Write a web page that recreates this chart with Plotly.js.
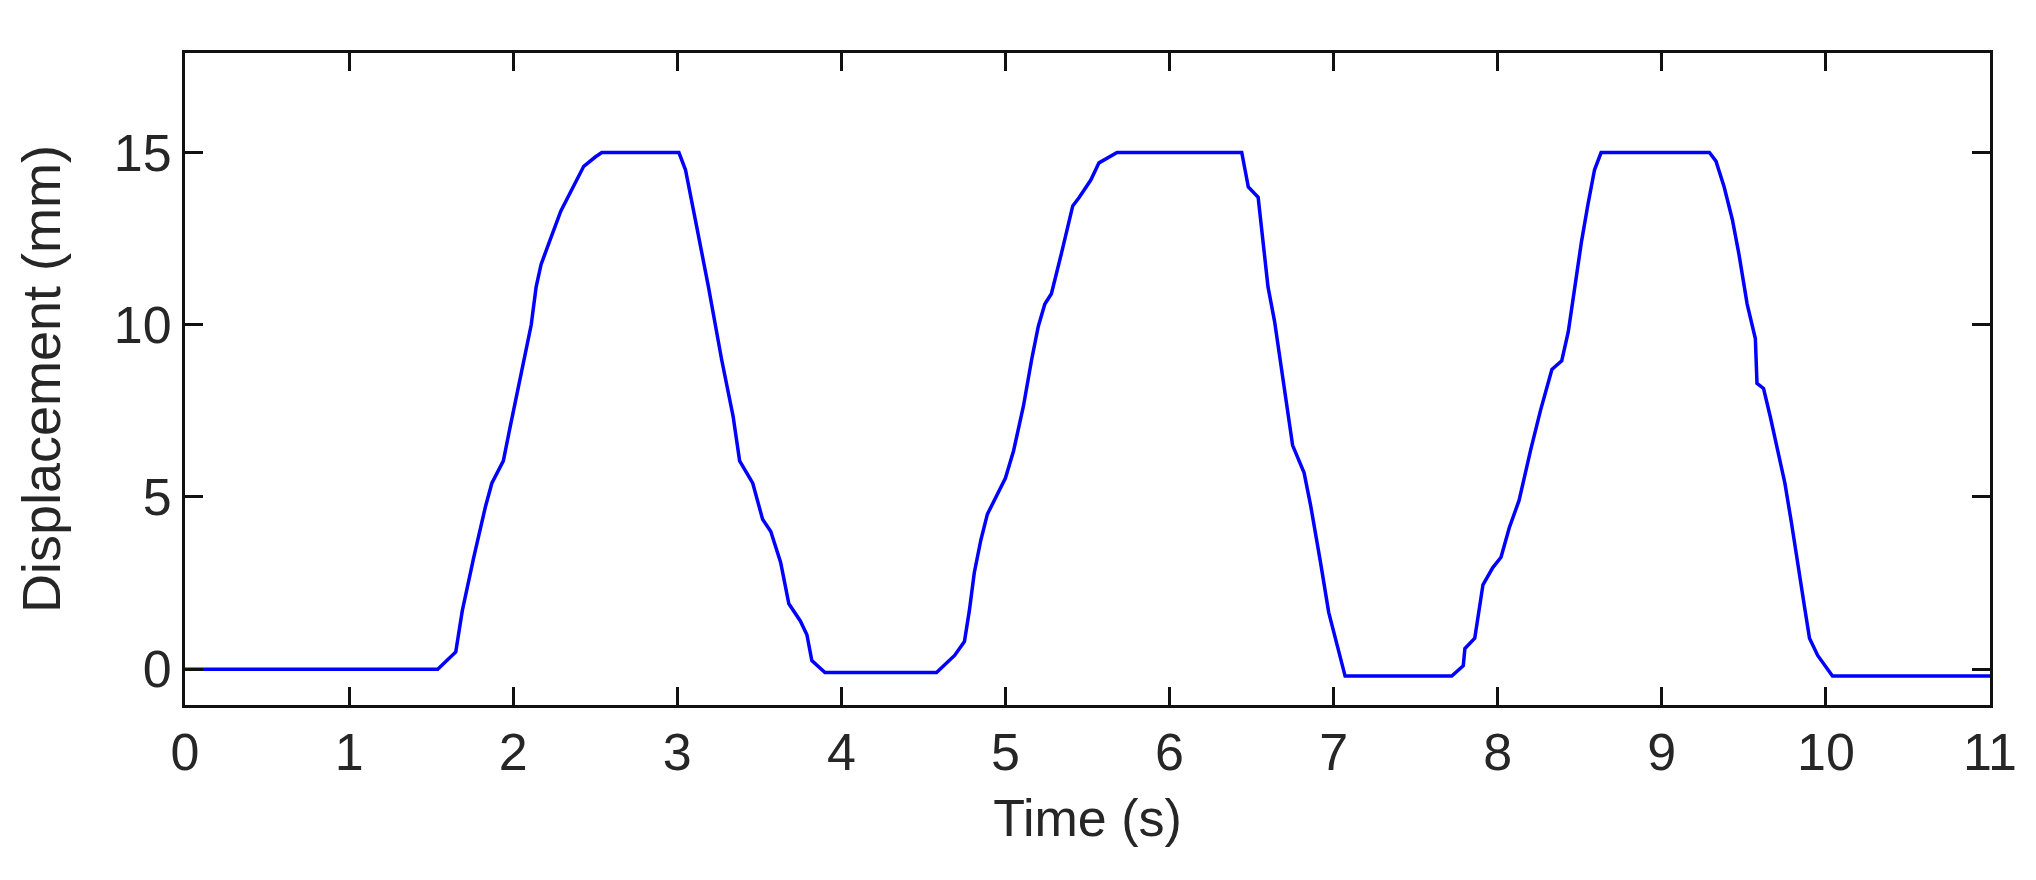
<!DOCTYPE html>
<html>
<head>
<meta charset="utf-8">
<script src="https://cdn.plot.ly/plotly-3.0.1.min.js"></script>
<style>
  html, body { margin: 0; padding: 0; background: #fff; }
  #graph { width: 2036px; height: 880px; }
</style>
</head>
<body>
<div id="graph"></div>
<script>
// time (s)
const timeS = [
    0, 1.54, 1.65, 1.69, 1.76, 1.83, 1.87, 1.94, 1.98, 2.03, 2.07, 2.11, 2.14, 2.17, 2.22, 2.29, 2.36, 2.43, 2.50, 2.54,
    3.01, 3.05, 3.11, 3.19, 3.27, 3.34, 3.38, 3.46, 3.52, 3.57, 3.63, 3.68, 3.75, 3.79, 3.82, 3.90,
    4.58, 4.69, 4.75, 4.78, 4.81, 4.85, 4.89, 4.95, 5.00, 5.05, 5.11, 5.16, 5.20, 5.24, 5.28, 5.34, 5.41, 5.45, 5.52, 5.57, 5.68,
    6.44, 6.48, 6.54, 6.60, 6.64, 6.70, 6.75, 6.82, 6.86, 6.92, 6.97, 7.07,
    7.72, 7.79, 7.80, 7.86, 7.91, 7.97, 8.02, 8.07, 8.13, 8.20, 8.26, 8.33, 8.39, 8.43, 8.47, 8.51, 8.55, 8.59, 8.63,
    9.29, 9.33, 9.38, 9.43, 9.47, 9.52, 9.57, 9.58, 9.62, 9.66, 9.72, 9.75, 9.79, 9.83, 9.87, 9.90, 9.95, 10.04, 11
];
// displacement (mm)
const dispMm = [
    0, 0, 0.5, 1.7, 3.25, 4.7, 5.4, 6.05, 7.0, 8.15, 9.1, 10.0, 11.1, 11.75, 12.4, 13.3, 13.95, 14.6, 14.87, 15,
    15, 14.5, 13.05, 11.1, 9.0, 7.35, 6.05, 5.4, 4.35, 4.0, 3.1, 1.9, 1.4, 1.0, 0.25, -0.1,
    -0.1, 0.4, 0.8, 1.7, 2.8, 3.75, 4.5, 5.05, 5.55, 6.35, 7.65, 9.0, 9.95, 10.6, 10.9, 12.05, 13.45, 13.7, 14.2, 14.7, 15,
    15, 14.0, 13.7, 11.1, 10.1, 8.15, 6.5, 5.7, 4.75, 3.1, 1.65, -0.2,
    -0.2, 0.1, 0.6, 0.9, 2.45, 2.95, 3.25, 4.1, 4.9, 6.35, 7.5, 8.7, 8.95, 9.8, 11.1, 12.4, 13.5, 14.5, 15,
    15, 14.75, 14.0, 13.05, 12.05, 10.6, 9.6, 8.3, 8.15, 7.35, 6.05, 5.4, 4.25, 3.1, 1.8, 0.9, 0.4, -0.2, -0.2
];

const xTicks = [0, 1, 2, 3, 4, 5, 6, 7, 8, 9, 10, 11];
const yTicks = [0, 5, 10, 15];

const fontFamily = "Liberation Sans, Arial, sans-serif";

const data = [{
    x: timeS,
    y: dispMm,
    type: "scatter",
    mode: "lines",
    line: { color: "#0000ff", width: 3.5 },
    hoverinfo: "skip"
}];

const axisStyle = {
    showline: true,
    mirror: "ticks",
    linecolor: "#111111",
    linewidth: 3,
    ticks: "inside",
    ticklen: 18,
    tickwidth: 3,
    tickcolor: "#111111",
    showgrid: false,
    zeroline: false,
    tickfont: { family: fontFamily, size: 52, color: "#262626" }
};

const layout = {
    width: 2036,
    height: 880,
    margin: { l: 185, r: 46, t: 53, b: 175 },
    paper_bgcolor: "#ffffff",
    plot_bgcolor: "#ffffff",
    showlegend: false,
    xaxis: Object.assign({}, axisStyle, {
        range: [0, 11],
        tickvals: xTicks,
        ticktext: xTicks.map(String),
        title: { text: "Time (s)", font: { family: fontFamily, size: 52, color: "#262626" }, standoff: 20 }
    }),
    yaxis: Object.assign({}, axisStyle, {
        range: [-1.04, 17.89],
        tickvals: yTicks,
        ticktext: yTicks.map(String),
        title: { text: "Displacement (mm)", font: { family: fontFamily, size: 54, color: "#262626" }, standoff: 36 }
    })
};

Plotly.newPlot("graph", data, layout, { displayModeBar: false, staticPlot: true });
</script>
</body>
</html>
